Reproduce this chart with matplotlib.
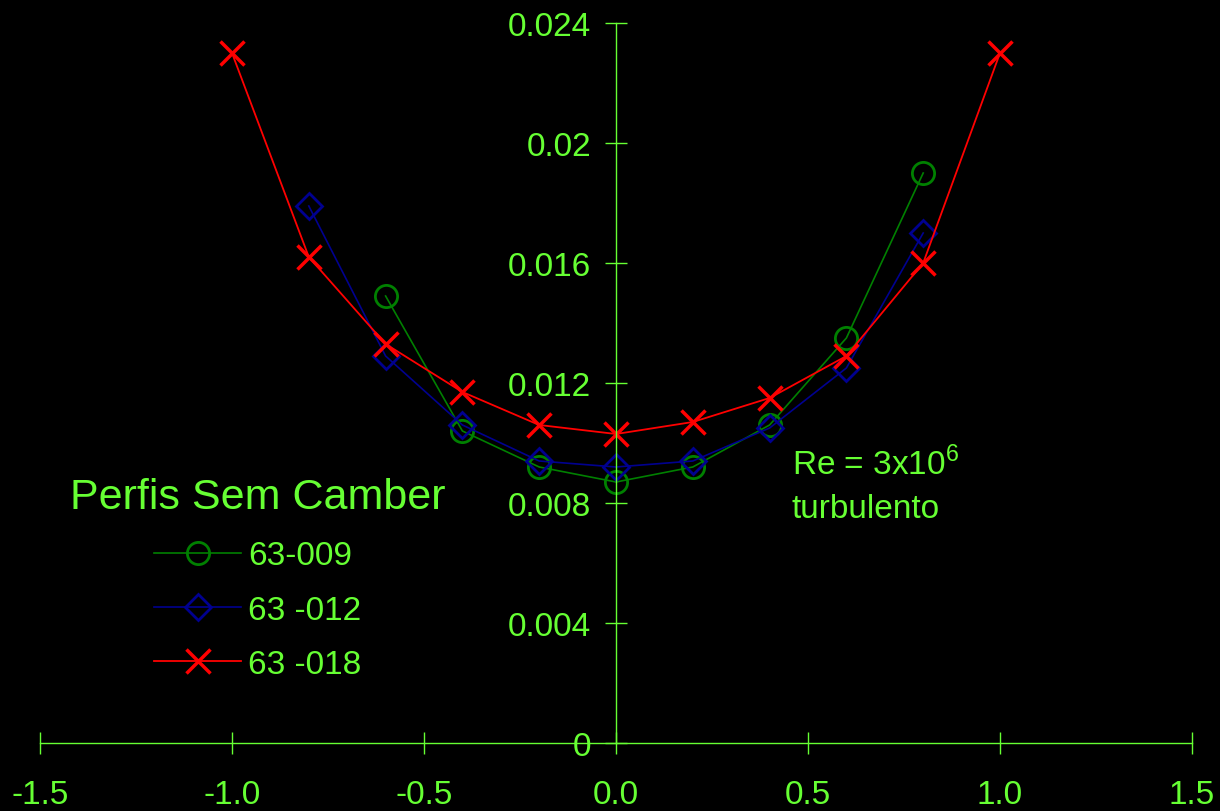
import numpy as np
import matplotlib.pyplot as plt

plt.rcParams['font.family'] = ['Liberation Sans', 'DejaVu Sans']
plt.rcParams['mathtext.fontset'] = 'custom'
plt.rcParams['mathtext.rm'] = 'Liberation Sans'

lime = '#66ff33'

x009 = [-0.6, -0.4, -0.2, 0.0, 0.2, 0.4, 0.6, 0.8]
cd009 = [0.0149, 0.0104, 0.0092, 0.0087, 0.0092, 0.0106, 0.0135, 0.0190]

x012 = [-0.8, -0.6, -0.4, -0.2, 0.0, 0.2, 0.4, 0.6, 0.8]
cd012 = [0.0179, 0.0129, 0.0106, 0.0094, 0.0092, 0.0094, 0.0105, 0.0125, 0.0170]

x018 = [-1.0, -0.8, -0.6, -0.4, -0.2, 0.0, 0.2, 0.4, 0.6, 0.8, 1.0]
cd018 = [0.0230, 0.0162, 0.0133, 0.0117, 0.0106, 0.0103, 0.0107, 0.0115, 0.0129, 0.0160, 0.0230]

xticks = [-1.5, -1.0, -0.5, 0.0, 0.5, 1.0, 1.5]
xlabels = ['-1.5', '-1.0', '-0.5', '0.0', '0.5', '1.0', '1.5']
yticks = [0, 0.004, 0.008, 0.012, 0.016, 0.02, 0.024]
ylabels = ['0', '0.004', '0.008', '0.012', '0.016', '0.02', '0.024']

fig = plt.figure(figsize=(12.2, 8.12), dpi=100, facecolor='black')
ax = fig.add_axes([0, 0, 1, 1], facecolor='black')

ax.plot(x009, cd009, color='#008000', lw=1.2, marker='o', ms=16, mfc='none',
        mew=2, label='63-009')
ax.plot(x012, cd012, color='#000090', lw=1.2, marker='D', ms=13, mfc='none',
        mew=2, label='63 -012')
ax.plot(x018, cd018, color='#ff0000', lw=1.3, marker='x', ms=17,
        mew=2.5, label='63 -018')

ax.set_xlim(-1.5 - 40 / 384, 1.5 + 28 / 384)
ax.set_ylim(-68 / 30000, 0.024 + 24 / 30000)

for s in ['top', 'right']:
    ax.spines[s].set_visible(False)
ax.spines['left'].set_position(('data', 0))
ax.spines['bottom'].set_position(('data', 0))
ax.spines['left'].set_bounds(0, 0.024)
ax.spines['bottom'].set_bounds(-1.5, 1.5)
for s in ['left', 'bottom']:
    ax.spines[s].set_color(lime)
    ax.spines[s].set_linewidth(1)

ax.set_xticks(xticks)
ax.set_xticklabels(xlabels)
ax.set_yticks(yticks)
ax.set_yticklabels(ylabels)
ax.tick_params(axis='both', direction='inout', length=16, width=1,
               colors=lime, labelsize=24)
ax.tick_params(axis='x', pad=18)
ax.tick_params(axis='y', pad=10)

ax.text(0.458, 0.00897, 'Re = 3x10$^{\\mathrm{6}}$', color=lime, fontsize=24)
ax.text(0.458, 0.00753, 'turbulento', color=lime, fontsize=24)

leg = ax.legend(loc='upper left', bbox_to_anchor=(40 / 1220, 1 - 448 / 812),
                frameon=False, title='Perfis Sem Camber', fontsize=24,
                title_fontsize=31, handlelength=2.6, handletextpad=0.2,
                labelspacing=0.7)
for t in leg.get_texts():
    t.set_color(lime)
leg.get_title().set_color(lime)

fig.savefig('out.png', dpi=100, facecolor='black')
